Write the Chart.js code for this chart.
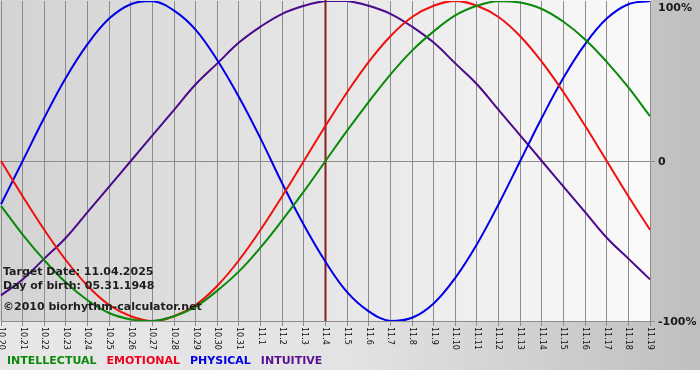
<!DOCTYPE html>
<html>
<head>
<meta charset="utf-8">
<script src="https://cdn.jsdelivr.net/npm/chart.js@4.4.0/dist/chart.umd.min.js"></script>
<style>
body{margin:0;background:#fff}
#wrap{width:700px;height:380px}
</style>
</head>
<body>
<div id="wrap"><canvas id="bioChart" width="700" height="380"></canvas></div>
<script>
let days=["10.20","10.21","10.22","10.23","10.24","10.25","10.26","10.27","10.28","10.29","10.30","10.31",
"11.1","11.2","11.3","11.4","11.5","11.6","11.7","11.8","11.9","11.10","11.11","11.12","11.13","11.14","11.15","11.16","11.17","11.18","11.19"];
let intellectual=[-0.28,-0.46,-0.62,-0.76,-0.87,-0.95,-0.99,-1.00,-0.97,-0.91,-0.81,-0.69,-0.54,-0.37,-0.19,0,0.19,0.37,0.54,0.69,0.81,0.91,0.97,1.00,0.99,0.95,0.87,0.76,0.62,0.46,0.28];
let emotional=[0,-0.22,-0.43,-0.62,-0.78,-0.90,-0.97,-1.00,-0.97,-0.90,-0.78,-0.62,-0.43,-0.22,0,0.22,0.43,0.62,0.78,0.90,0.97,1.00,0.97,0.90,0.78,0.62,0.43,0.22,0,-0.22,-0.43];
let physical=[-0.27,0,0.27,0.52,0.73,0.89,0.98,1.00,0.94,0.82,0.63,0.40,0.14,-0.14,-0.40,-0.63,-0.82,-0.94,-1.00,-0.98,-0.89,-0.73,-0.52,-0.27,0,0.27,0.52,0.73,0.89,0.98,1.00];
let intuitive=[-0.84,-0.74,-0.61,-0.48,-0.32,-0.16,0,0.16,0.32,0.48,0.61,0.74,0.84,0.92,0.97,1.00,1.00,0.97,0.92,0.84,0.74,0.61,0.48,0.32,0.16,0,-0.16,-0.32,-0.48,-0.61,-0.74];
let seriesNames=["INTELLECTUAL","EMOTIONAL","PHYSICAL","INTUITIVE"];
let yTicks=[1,0,-1];
let yTickLabels=["100%","0","-100%"];
let targetDay="11.4";
let infoLines=["Target Date: 11.04.2025","Day of birth: 05.31.1948","©2010 biorhythm-calculator.net"];

let lineColors=["#0a8a0a","#f01010","#0000e6","#4b0a8c"];
let textColors=["#0a8a0a","#f0001c","#0000e6","#5a1090"];

const bioPlugin={
id:'bio',
beforeDraw(chart){
let c=chart.ctx,a=chart.chartArea;
c.save();
let g=c.createLinearGradient(0,0,700,0);
g.addColorStop(0,'#e7e7e7');g.addColorStop(0.5,'#e3e3e3');g.addColorStop(1,'#bfbfbf');
c.fillStyle=g;c.fillRect(0,0,700,370);
c.fillStyle='#fff';c.fillRect(0,370,700,10);
let p=c.createLinearGradient(a.left,0,a.right,0);
p.addColorStop(0,'#d3d3d3');p.addColorStop(1,'#fafafa');
c.fillStyle=p;c.fillRect(0,0,a.right+1,a.bottom);
c.restore();
},
beforeDatasetsDraw(chart){
let c=chart.ctx,a=chart.chartArea;
let x=chart.scales.x.getPixelForValue(days.indexOf(targetDay));
c.save();
c.strokeStyle='#8a1c1c';c.lineWidth=2;
c.beginPath();c.moveTo(x,0);c.lineTo(x,a.bottom);c.stroke();
c.restore();
},
afterDraw(chart){
let c=chart.ctx,a=chart.chartArea,xs=chart.scales.x,ys=chart.scales.y;
c.save();
// dates, turned clockwise
c.font='8px "DejaVu Sans"';c.fillStyle='#111';c.textBaseline='middle';c.textAlign='left';
days.forEach((d,i)=>{
c.save();
c.translate(xs.getPixelForValue(i),a.bottom+6);
c.rotate(Math.PI/2);
c.fillText(d,0,0);
c.restore();
});
// percent labels on the right
c.font='bold 11px "DejaVu Sans"';c.fillStyle='#1a1a1a';
yTicks.forEach((v,i)=>{
let y=ys.getPixelForValue(v);
if(v==1)y=a.top+7;else y=y+1;
c.fillText(yTickLabels[i],658,y);
});
// info text
c.fillStyle='#1e1e1e';
c.fillText(infoLines[0],3,272);
c.fillText(infoLines[1],3,286);
c.fillText(infoLines[2],3,307);
// legend
let x=7;
seriesNames.forEach((n,i)=>{
c.fillStyle=textColors[i];
c.fillText(n,x,361);
x+=c.measureText(n).width+10;
});
c.restore();
}
};

new Chart(document.getElementById('bioChart'),{
type:'line',
data:{
labels:days,
datasets:[intellectual,emotional,physical,intuitive].map((d,i)=>({
label:seriesNames[i],data:d,borderColor:lineColors[i],borderWidth:2,pointRadius:0,tension:0.4,fill:false
}))
},
options:{
responsive:false,animation:false,
layout:{padding:{left:1,top:1,right:45,bottom:54}},
plugins:{legend:{display:false},tooltip:{enabled:false}},
scales:{
x:{ticks:{display:false},grid:{color:'#8c8c8c',tickLength:5},border:{color:'#8c8c8c'}},
y:{position:'right',min:-1,max:1,ticks:{display:false,stepSize:1},
grid:{color:ctx=>ctx.tick&&ctx.tick.value==1?'rgba(0,0,0,0)':'#8c8c8c',tickLength:5},border:{display:false}}
}
},
plugins:[bioPlugin]
});
</script>
</body>
</html>
